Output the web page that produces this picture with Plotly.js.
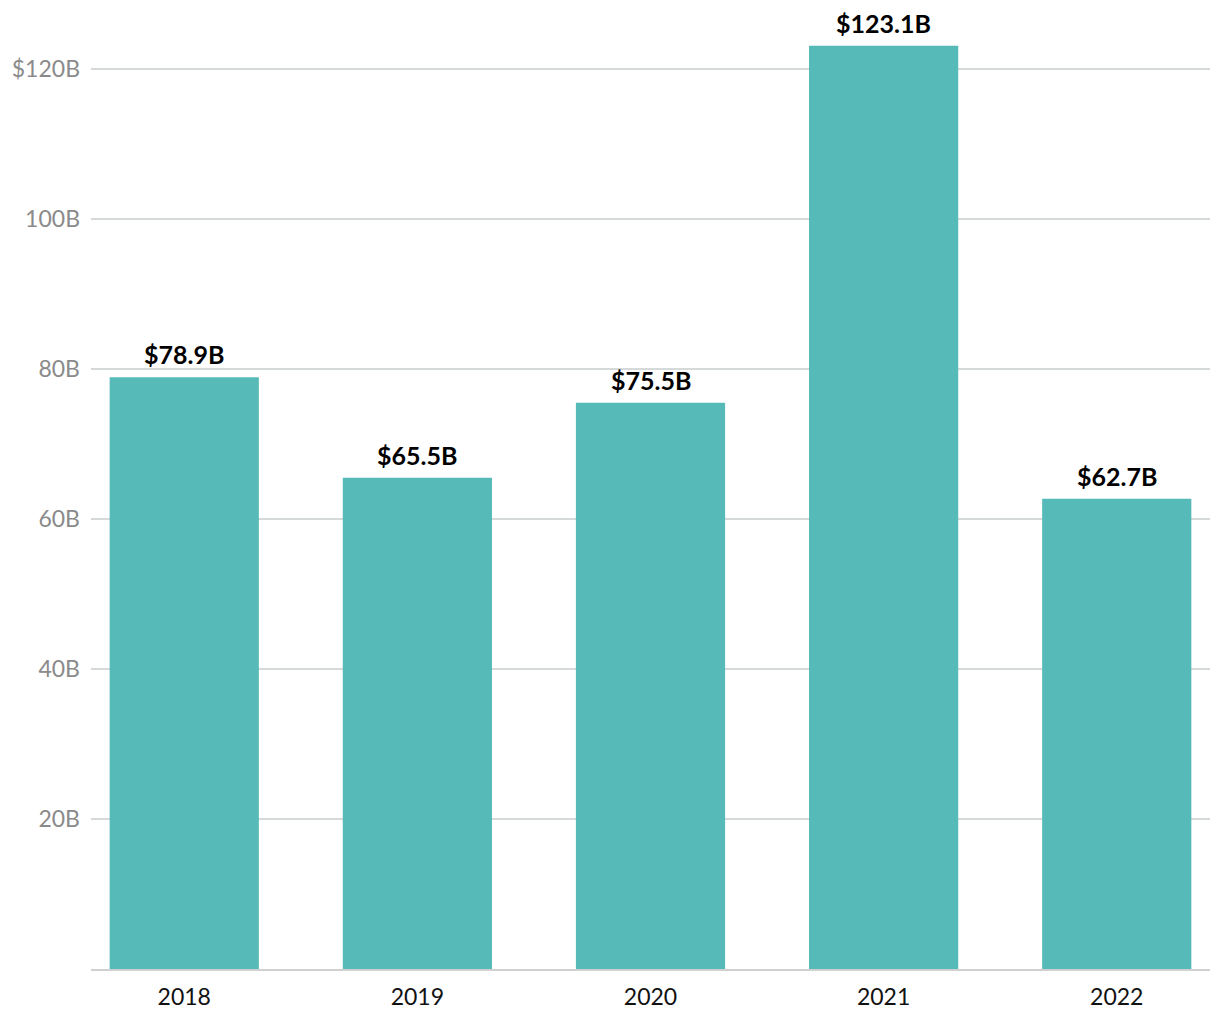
<!DOCTYPE html>
<html>
<head>
<meta charset="utf-8">
<script src="https://cdn.plot.ly/plotly-3.0.1.min.js"></script>
<style>html,body{margin:0;padding:0;background:#fff;}#chart{width:1220px;height:1020px;}</style>
</head>
<body>
<div id="chart"></div>
<script>
const years = ['2018', '2019', '2020', '2021', '2022'];
const values = [78.9, 65.5, 75.5, 123.1, 62.7];
const labels = ['$78.9B', '$65.5B', '$75.5B', '$123.1B', '$62.7B'];
const yTickVals = [20, 40, 60, 80, 100, 120];
const yTickText = ['20B', '40B', '60B', '80B', '100B', '$120B'];

const trace = {
  type: 'bar',
  x: years,
  y: values,
  marker: {color: '#56bbb8'},
  hoverinfo: 'x+y'
};

// category axis: annotation x given as the category index
const annotations = years.map((yr, i) => ({
  x: i,
  y: values[i],
  xref: 'x',
  yref: 'y',
  text: labels[i],
  showarrow: false,
  xanchor: 'center',
  yanchor: 'bottom',
  yshift: 6,
  font: {family: 'Lato, sans-serif', size: 25, color: '#000', weight: 'bold'}
}));

const layout = {
  width: 1220,
  height: 1020,
  margin: {l: 91, r: 10, t: 9, b: 51},
  paper_bgcolor: '#fff',
  plot_bgcolor: '#fff',
  bargap: 0.36,
  showlegend: false,
  font: {family: 'Lato, sans-serif'},
  annotations: annotations,
  xaxis: {
    type: 'category',
    range: [-0.4, 4.4],
    showgrid: false,
    showline: true,
    linecolor: '#d0d0d0',
    linewidth: 2,
    ticks: '',
    ticklabelstandoff: 6,
    tickfont: {family: 'Lato, sans-serif', size: 23, color: '#111'}
  },
  yaxis: {
    range: [0, 128],
    tickvals: yTickVals,
    ticktext: yTickText,
    showgrid: true,
    gridcolor: '#d6d9d9',
    gridwidth: 1.5,
    zeroline: false,
    showline: false,
    ticks: '',
    ticklabelstandoff: 10,
    tickfont: {family: 'Lato, sans-serif', size: 23, color: '#8a8a8a'}
  }
};

Plotly.newPlot('chart', [trace], layout, {displayModeBar: false, staticPlot: true});
</script>
</body>
</html>
